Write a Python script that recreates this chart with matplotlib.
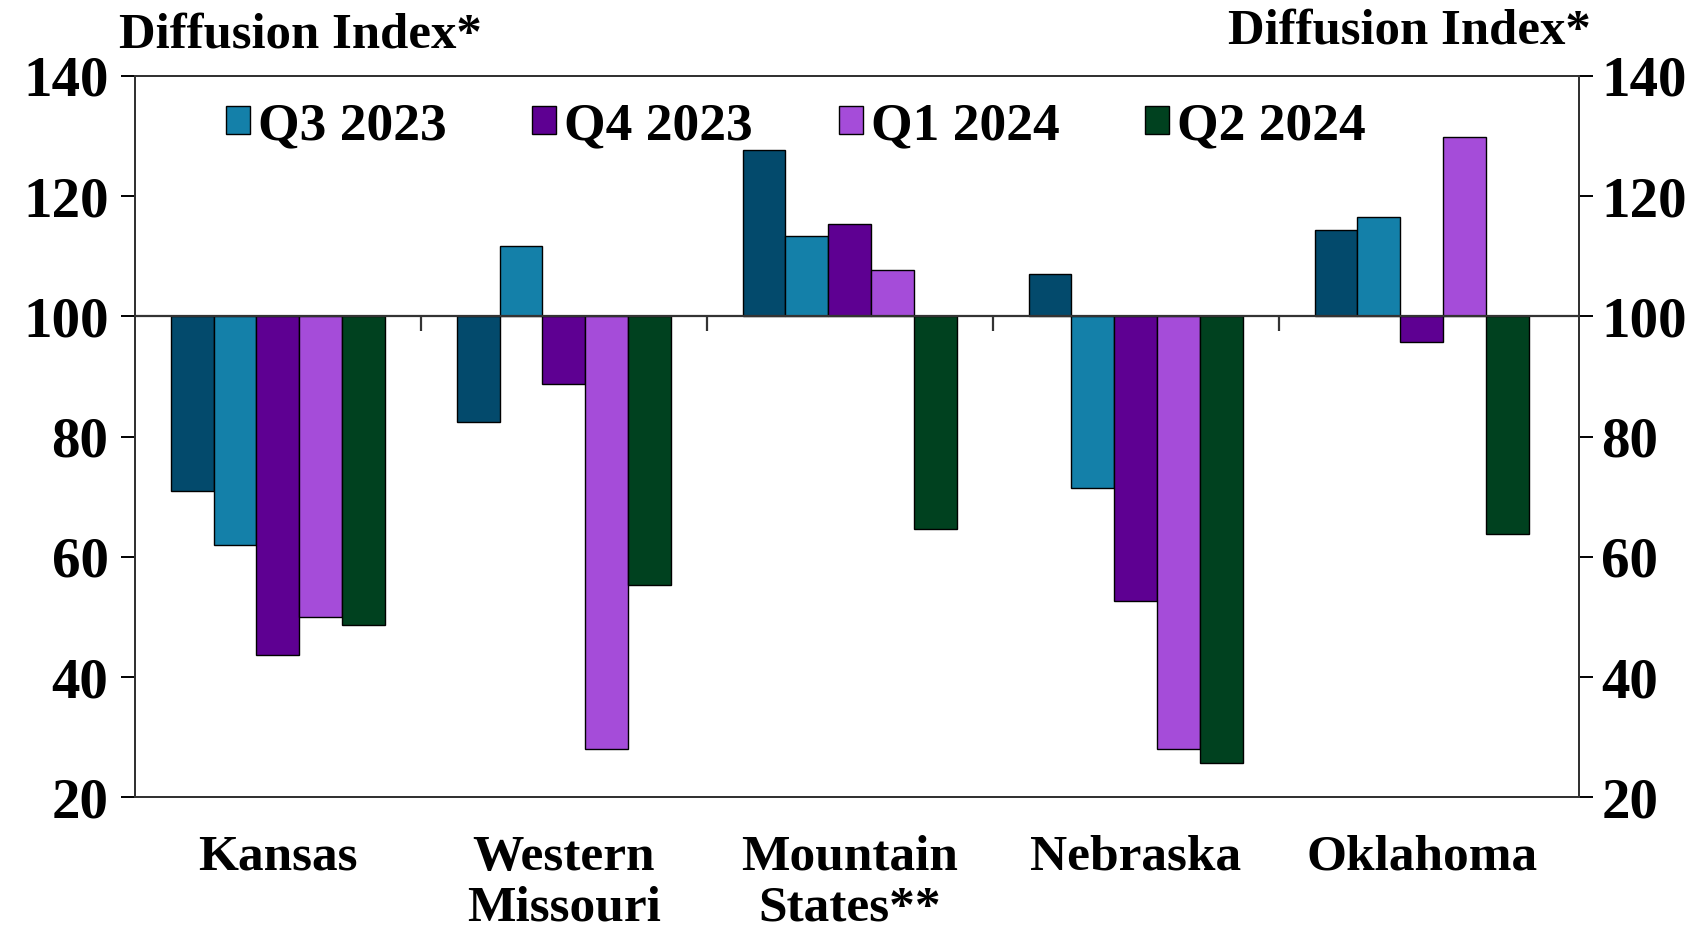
import numpy as np
import matplotlib
matplotlib.use('Agg')
import matplotlib.pyplot as plt

plt.rcParams['font.family'] = ['Liberation Serif', 'DejaVu Serif']
plt.rcParams['font.weight'] = 'bold'

regions = ['Kansas', 'Western\nMissouri', 'Mountain\nStates**', 'Nebraska', 'Oklahoma']
quarters = ['Q2 2023', 'Q3 2023', 'Q4 2023', 'Q1 2024', 'Q2 2024']
q2_2023 = [71.0, 82.5, 127.7, 107.0, 114.4]
q3_2023 = [62.0, 111.7, 113.3, 71.4, 116.6]
q4_2023 = [43.7, 88.8, 115.3, 52.7, 95.7]
q1_2024 = [50.0, 28.0, 107.7, 28.0, 129.9]
q2_2024 = [48.7, 55.4, 64.6, 25.7, 63.8]
colors = ['#034a6c', '#1480a9', '#5e0092', '#a54cd9', '#00411f']

series = [q2_2023, q3_2023, q4_2023, q1_2024, q2_2024]

fig = plt.figure(figsize=(16.95, 9.38), dpi=100)
ax = fig.add_axes([0.0796, 0.150, 0.852, 0.769])

x = np.arange(len(regions))
w = 0.15
for i, (vals, col) in enumerate(zip(series, colors)):
    vals = np.array(vals)
    lab = quarters[i] if i > 0 else '_nolegend_'
    ax.bar(x + (i - 2) * w, vals - 100, bottom=100, width=w, color=col,
           edgecolor='black', linewidth=1.0, label=lab, zorder=3)

ax.axhline(100, color='#333333', lw=1.6, zorder=4)
ax.vlines(x[:-1] + 0.5, 97.6, 100, color='#333333', lw=1.6, zorder=4)

ax.set_xlim(-0.5, 4.55)
ax.set_ylim(20, 140)
ax.set_yticks(range(20, 141, 20))
ax.set_xticks(x)
ax.set_xticklabels(regions, fontsize=37, linespacing=1.12, va='top')
ax.tick_params(axis='x', length=0, pad=27)
ax.tick_params(axis='y', direction='out', length=10, width=1.4, labelsize=41, pad=9, colors='black')

for s in ax.spines.values():
    s.set_linewidth(1.4)
    s.set_color('#333333')

ax2 = ax.twinx()
ax2.set_ylim(20, 140)
ax2.set_yticks(range(20, 141, 20))
ax2.tick_params(axis='y', direction='out', length=10, width=1.4, labelsize=41, pad=6)
for s in ax2.spines.values():
    s.set_linewidth(1.4)
    s.set_color('#333333')

fig.text(119 / 1695, 1 - 35 / 938, 'Diffusion Index*', fontsize=36.5, ha='left', va='center')
fig.text(1591 / 1695, 1 - 32 / 938, 'Diffusion Index*', fontsize=36.5, ha='right', va='center')

ax.legend(loc='center', bbox_to_anchor=(796 / 1695, 1 - 126 / 938),
          bbox_transform=fig.transFigure, ncol=4, frameon=False, fontsize=38.5,
          handlelength=0.45, handleheight=0.45, handletextpad=0.15,
          columnspacing=1.6, borderaxespad=0)

fig.savefig('out.png', dpi=100)
